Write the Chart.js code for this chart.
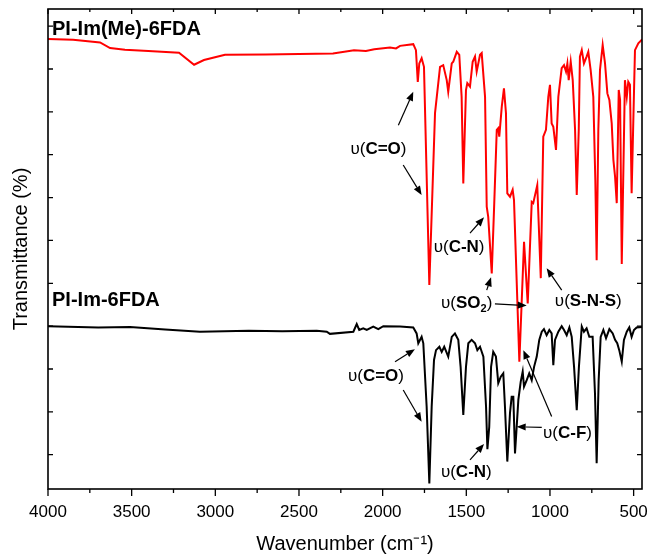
<!DOCTYPE html>
<html>
<head>
<meta charset="utf-8">
<script src="https://cdn.jsdelivr.net/npm/chart.js@4.4.1/dist/chart.umd.min.js"></script>
<style>
  html, body { margin: 0; padding: 0; background: #fff; }
  canvas { display: block; }
</style>
</head>
<body>
<canvas id="c" width="649" height="556"></canvas>
<script>
// ---------- data (wavenumber in cm-1, transmittance in arbitrary %-like units) ----------
const redWn = [4000,3850,3689,3629,3540,3400,3217,3127,3068,2942,2700,2500,2297,2171,2100,2050,1956,1920,1896,1817,1801,1790,1781,1767,1753,1721,1687,1657,1638,1617,1608,1587,1578,1557,1542,1528,1518,1502,1494,1478,1462,1448,1438,1418,1408,1388,1378,1369,1348,1333,1318,1309,1303,1288,1275,1263,1255,1239,1223,1215,1183,1155,1133,1109,1100,1076,1055,1040,1024,1010,1000,990,980,964,950,930,916,904,896,888,876,864,850,840,828,821,810,797,781,771,757,741,729,721,711,701,685,671,657,645,631,621,611,601,589,581,571,552,541,532,522,512,492,472,452,450];
const redT  = [97.0,96.8,96.2,94.9,94.5,94.2,93.8,91.0,92.1,93.3,93.4,93.5,93.6,94.4,94.2,94.6,95.0,94.8,95.4,95.8,94.4,87.0,91.3,92.5,90.5,39.6,79.7,90.5,90.9,87.4,84.7,91.3,91.7,94.0,93.3,83.5,63.3,85.1,86.7,85.9,91.7,92.9,89.4,93.3,93.7,83.5,57.9,55.5,42.3,58.7,75.8,76.2,74.2,81.2,85.5,79.7,61.0,60.2,61.8,59.4,21.7,49.7,35.3,59.0,58.7,62.9,41.2,74.2,75.8,83.5,86.3,77.3,76.5,71.1,83.5,90.2,90.9,89.4,91.3,87.4,91.7,87.4,75.8,60.6,75.8,92.9,94.4,91.3,92.9,94.0,89.8,83.5,64.1,45.4,75.8,89.8,95.6,91.3,84.3,82.8,77.3,68.8,64.9,58.7,85.1,82.8,44.5,87.4,83.5,87.0,86.3,61.0,94.4,96.0,96.8,97.0];

const blackWn = [4000,3700,3510,3300,3092,2800,2600,2394,2334,2315,2175,2155,2140,2116,2095,2056,2026,1996,1896,1817,1797,1787,1767,1757,1737,1721,1707,1693,1681,1661,1647,1632,1608,1587,1568,1548,1534,1518,1502,1488,1468,1448,1434,1418,1398,1382,1374,1363,1352,1339,1323,1309,1294,1279,1269,1255,1239,1229,1219,1209,1199,1189,1175,1163,1155,1139,1124,1109,1095,1079,1064,1049,1036,1020,1004,990,980,970,950,930,916,900,884,870,856,840,827,810,797,781,765,745,731,721,709,697,681,665,645,625,611,598,586,571,558,541,526,512,498,482,450];
const blackT  = [30.0,29.7,29.8,29.2,28.7,28.9,28.8,28.9,28.7,28.2,28.7,30.5,29.1,29.5,29.1,29.9,29.3,30.0,29.9,29.7,28.3,26.0,27.5,26.0,11.2,-6.7,11.2,22.1,24.4,25.2,24.0,25.2,22.9,27.5,28.3,26.8,20.5,9.3,20.5,26.0,26.8,26.0,24.4,25.2,22.9,11.2,1.3,6.5,20.5,24.0,22.9,16.7,18.2,19.0,11.2,-1.6,9.7,13.5,13.5,0.3,6.5,12.8,17.0,19.4,15.9,17.4,19.0,17.4,20.5,22.9,26.8,28.7,29.3,27.9,29.1,28.3,20.9,26.8,28.7,30.0,29.1,27.9,29.7,27.5,20.5,10.4,20.5,29.9,28.7,29.5,27.5,27.5,14.3,-2.0,17.4,27.5,29.1,27.2,29.3,28.3,26.8,26.0,24.4,21.7,26.8,28.7,29.7,27.5,29.1,29.7,29.8];

const seriesNames = ['PI-Im(Me)-6FDA', 'PI-Im-6FDA'];
const xMajorTicks = [4000,3500,3000,2500,2000,1500,1000,500];
const xMinorTicks = [3750,3250,2750,2250,1750,1250,750];
const yTicks = [0,10,20,30,40,50,60,70,80,90,100];

// series labels: [text, wavenumber, value]
const seriesLabels = [
  [seriesNames[0], 3976, 99.3],
  [seriesNames[1], 3976, 36.1]
];

// peak annotations: text parts, label centre (wn, value), arrows [fromWn, fromV, toWn, toV]
const annotations = [
  { parts: [['υ',0],['(',0],['C=O',1],[')',0]], at: [2025, 71.3],
    arrows: [[1906,76.9,1817,84.7],[1877,67.6,1767,60.6]] },
  { parts: [['υ',0],['(',0],['C-N',1],[')',0]], at: [1543, 48.5],
    arrows: [[1478,51.7,1394,55.4]] },
  { parts: [['υ',0],['(',0],['SO',1],['2',2],[')',0]], at: [1498, 35.3],
    arrows: [[1378,38.4,1352,41.4],[1329,35.2,1139,34.8]] },
  { parts: [['υ',0],['(',0],['S-N-S',1],[')',0]], at: [771, 35.7],
    arrows: [[930,38.4,1020,43.5]] },
  { parts: [['υ',0],['(',0],['C=O',1],[')',0]], at: [2040, 18.2],
    arrows: [[1926,21.7,1807,24.6],[1877,15.1,1767,7.7]] },
  { parts: [['υ',0],['(',0],['C-N',1],[')',0]], at: [1500, -4.0],
    arrows: [[1478,-1.2,1394,2.5]] },
  { parts: [['υ',0],['(',0],['C-F',1],[')',0]], at: [895, 5.1],
    arrows: [[1049,6.4,1199,6.5],[990,8.9,1159,24.4]] }
];

const FAMILY = '"Liberation Sans", Arial, Helvetica, sans-serif';

function drawArrow(ctx, x1, y1, x2, y2) {
  const ang = Math.atan2(y2 - y1, x2 - x1);
  const L = 9, W = 3.6;
  const bx = x2 - L * Math.cos(ang), by = y2 - L * Math.sin(ang);
  ctx.beginPath();
  ctx.moveTo(x1, y1);
  ctx.lineTo(bx, by);
  ctx.lineWidth = 1.2;
  ctx.strokeStyle = '#000';
  ctx.stroke();
  ctx.beginPath();
  ctx.moveTo(x2, y2);
  ctx.lineTo(bx + W * Math.sin(ang), by - W * Math.cos(ang));
  ctx.lineTo(bx - W * Math.sin(ang), by + W * Math.cos(ang));
  ctx.closePath();
  ctx.fillStyle = '#000';
  ctx.fill();
}

function partFont(kind, size) {
  if (kind === 1) return 'bold ' + size + 'px ' + FAMILY;
  if (kind === 2) return 'bold ' + Math.round(size * 0.65) + 'px ' + FAMILY;
  return size + 'px ' + FAMILY;
}

function drawRich(ctx, parts, cx, cy, size) {
  let total = 0;
  const widths = parts.map(p => { ctx.font = partFont(p[1], size); const w = ctx.measureText(p[0]).width; total += w; return w; });
  let x = cx - total / 2;
  ctx.textBaseline = 'middle';
  ctx.textAlign = 'left';
  ctx.fillStyle = '#000';
  parts.forEach((p, i) => {
    ctx.font = partFont(p[1], size);
    ctx.fillText(p[0], x, p[1] === 2 ? cy + size * 0.35 : cy);
    x += widths[i];
  });
}

const framePlugin = {
  id: 'frame',
  afterDraw(chart) {
    const { ctx, chartArea: a, scales: { x, y } } = chart;
    ctx.save();
    ctx.strokeStyle = '#000';
    ctx.lineWidth = 1.6;
    ctx.strokeRect(a.left, a.top, a.right - a.left, a.bottom - a.top);
    ctx.lineWidth = 1.3;
    ctx.beginPath();
    xMajorTicks.forEach(v => {
      const px = x.getPixelForValue(v);
      ctx.moveTo(px, a.bottom); ctx.lineTo(px, a.bottom + 7);
      ctx.moveTo(px, a.top); ctx.lineTo(px, a.top + 5);
    });
    xMinorTicks.forEach(v => {
      const px = x.getPixelForValue(v);
      ctx.moveTo(px, a.bottom); ctx.lineTo(px, a.bottom + 4);
      ctx.moveTo(px, a.top); ctx.lineTo(px, a.top + 3);
    });
    yTicks.forEach(v => {
      const py = y.getPixelForValue(v);
      ctx.moveTo(a.left, py); ctx.lineTo(a.left + 5, py);
      ctx.moveTo(a.right, py); ctx.lineTo(a.right - 5, py);
    });
    ctx.stroke();
    ctx.restore();
  }
};

const annotPlugin = {
  id: 'annot',
  afterDatasetsDraw(chart) {
    const { ctx, scales: { x, y } } = chart;
    ctx.save();
    ctx.fillStyle = '#000';
    ctx.textBaseline = 'middle';
    ctx.textAlign = 'left';
    ctx.font = 'bold 20px ' + FAMILY;
    seriesLabels.forEach(l => ctx.fillText(l[0], x.getPixelForValue(l[1]), y.getPixelForValue(l[2])));
    annotations.forEach(an => {
      drawRich(ctx, an.parts, x.getPixelForValue(an.at[0]), y.getPixelForValue(an.at[1]), 17);
      an.arrows.forEach(ar => drawArrow(ctx,
        x.getPixelForValue(ar[0]), y.getPixelForValue(ar[1]),
        x.getPixelForValue(ar[2]), y.getPixelForValue(ar[3])));
    });
    ctx.restore();
  }
};

const ctx = document.getElementById('c').getContext('2d');
new Chart(ctx, {
  type: 'line',
  data: {
    datasets: [
      { label: seriesNames[0], data: redWn.map((w, i) => ({ x: w, y: redT[i] })),
        borderColor: '#ff0000', borderWidth: 2, pointRadius: 0, tension: 0, fill: false },
      { label: seriesNames[1], data: blackWn.map((w, i) => ({ x: w, y: blackT[i] })),
        borderColor: '#000000', borderWidth: 2, pointRadius: 0, tension: 0, fill: false }
    ]
  },
  options: {
    responsive: false,
    animation: false,
    devicePixelRatio: 1,
    layout: { padding: { left: 0, right: 7, top: 9, bottom: 0 } },
    plugins: { legend: { display: false }, tooltip: { enabled: false } },
    scales: {
      x: {
        type: 'linear', reverse: true, min: 450, max: 4000,
        afterBuildTicks: s => { s.ticks = xMajorTicks.map(v => ({ value: v })); },
        afterFit: s => { s.height = 67; s.paddingLeft = 0; s.paddingRight = 0; },
        grid: { display: false, drawTicks: false },
        border: { display: false },
        ticks: { font: { family: FAMILY, size: 17 }, color: '#000', padding: 13,
                 maxRotation: 0, autoSkip: false, callback: v => String(v) },
        title: { display: true, text: 'Wavenumber (cm⁻¹)', color: '#000',
                 font: { family: FAMILY, size: 20 }, padding: { top: 0, bottom: 0 } }
      },
      y: {
        min: -8, max: 104,
        afterFit: s => { s.width = 48; },
        grid: { display: false, drawTicks: false },
        border: { display: false },
        ticks: { display: false },
        title: { display: true, text: 'Transmittance (%)', color: '#000',
                 font: { family: FAMILY, size: 20 }, padding: { top: 9, bottom: 0 } }
      }
    }
  },
  plugins: [framePlugin, annotPlugin]
});
</script>
</body>
</html>
